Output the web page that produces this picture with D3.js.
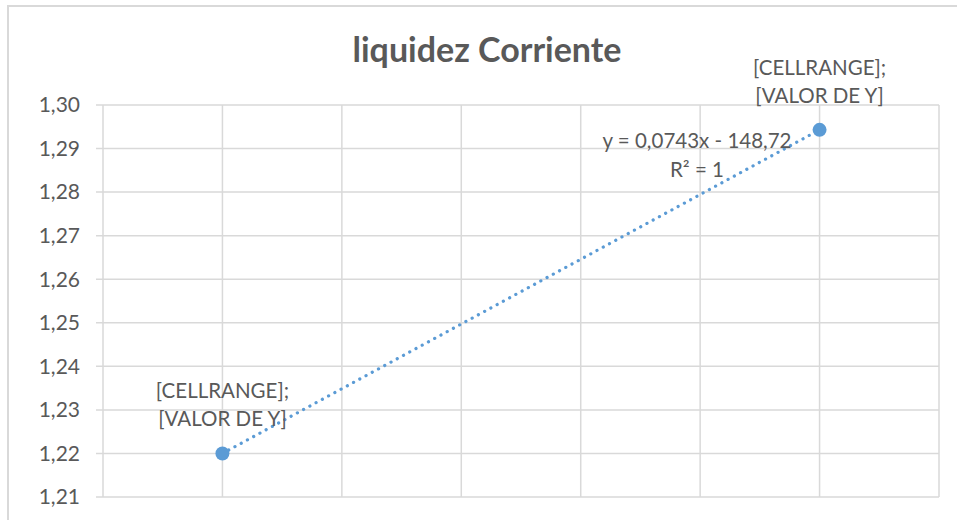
<!DOCTYPE html>
<html>
<head>
<meta charset="utf-8">
<script src="https://cdn.jsdelivr.net/npm/d3@7"></script>
<style>
  body { margin: 0; background: #fff; }
  svg { display: block; }
</style>
</head>
<body>
<div id="chart"></div>
<script>
// data
const years = [2018, 2019];
const liquidez = [1.22, 1.2943];
const yTicks = [1.21, 1.22, 1.23, 1.24, 1.25, 1.26, 1.27, 1.28, 1.29, 1.30];
const xTicks = [2017.8, 2018.0, 2018.2, 2018.4, 2018.6, 2018.8, 2019.0, 2019.2];
const title = "liquidez Corriente";
const pointLabel = ["[CELLRANGE];", "[VALOR DE Y]"];
const trendText = ["y = 0,0743x - 148,72", "R² = 1"];

const width = 957, height = 520;
const margin = { top: 105, right: 18, bottom: 23, left: 103 };
const fontFamily = "Lato, 'Open Sans', sans-serif";
const textColor = "#595959";
const gridColor = "#d9d9d9";
const blue = "#5b9bd5";

const svg = d3.select("#chart")
  .append("svg")
  .attr("width", width)
  .attr("height", height);

// chart area border
svg.append("rect")
  .attr("x", 8)
  .attr("y", 6)
  .attr("width", width + 10)
  .attr("height", height + 10)
  .attr("fill", "#fff")
  .attr("stroke", gridColor)
  .attr("stroke-width", 2);

const x = d3.scaleLinear()
  .domain([2017.8, 2019.2])
  .range([margin.left, width - margin.right]);

const y = d3.scaleLinear()
  .domain([1.21, 1.30])
  .range([height - margin.bottom, margin.top]);

const fmt = d3.format(".2f");

// horizontal gridlines
svg.append("g")
  .selectAll("line")
  .data(yTicks)
  .join("line")
  .attr("x1", margin.left - 7)
  .attr("x2", x(2019.2))
  .attr("y1", d => y(d))
  .attr("y2", d => y(d))
  .attr("stroke", gridColor)
  .attr("stroke-width", 1.5);

// vertical gridlines
svg.append("g")
  .selectAll("line")
  .data(xTicks)
  .join("line")
  .attr("x1", d => x(d))
  .attr("x2", d => x(d))
  .attr("y1", y(1.30))
  .attr("y2", y(1.21))
  .attr("stroke", gridColor)
  .attr("stroke-width", 1.5);

// y tick labels
svg.append("g")
  .selectAll("text")
  .data(yTicks)
  .join("text")
  .attr("x", margin.left - 23)
  .attr("y", d => y(d))
  .attr("dy", "0.35em")
  .attr("text-anchor", "end")
  .style("font", "21px " + fontFamily)
  .attr("fill", textColor)
  .text(d => fmt(d).replace(".", ","));

// title
svg.append("text")
  .attr("x", 487)
  .attr("y", 62)
  .attr("text-anchor", "middle")
  .style("font", "bold 34px " + fontFamily)
  .attr("fill", textColor)
  .text(title);

// trendline (dotted)
svg.append("line")
  .attr("x1", x(years[0]))
  .attr("y1", y(liquidez[0]))
  .attr("x2", x(years[1]))
  .attr("y2", y(liquidez[1]))
  .attr("stroke", blue)
  .attr("stroke-width", 3.2)
  .attr("stroke-linecap", "round")
  .attr("stroke-dasharray", "0.1,7");

// points
svg.append("g")
  .selectAll("circle")
  .data(years)
  .join("circle")
  .attr("cx", d => x(d))
  .attr("cy", (d, i) => y(liquidez[i]))
  .attr("r", 7)
  .attr("fill", blue);

// data labels
const labels = svg.append("g")
  .selectAll("text")
  .data(years)
  .join("text")
  .attr("text-anchor", "middle")
  .style("font", "20.5px " + fontFamily)
  .attr("fill", textColor)
  .attr("transform", (d, i) => "translate(" + x(d) + "," + (y(liquidez[i]) - 55) + ")");

labels.selectAll("tspan")
  .data(pointLabel)
  .join("tspan")
  .attr("x", 0)
  .attr("y", (d, i) => i * 28)
  .text(d => d);

// trendline equation
svg.append("g")
  .selectAll("text")
  .data(trendText)
  .join("text")
  .attr("x", 697)
  .attr("y", (d, i) => 148 + i * 29)
  .attr("text-anchor", "middle")
  .style("font", "20.5px " + fontFamily)
  .attr("fill", textColor)
  .text(d => d);
</script>
</body>
</html>
